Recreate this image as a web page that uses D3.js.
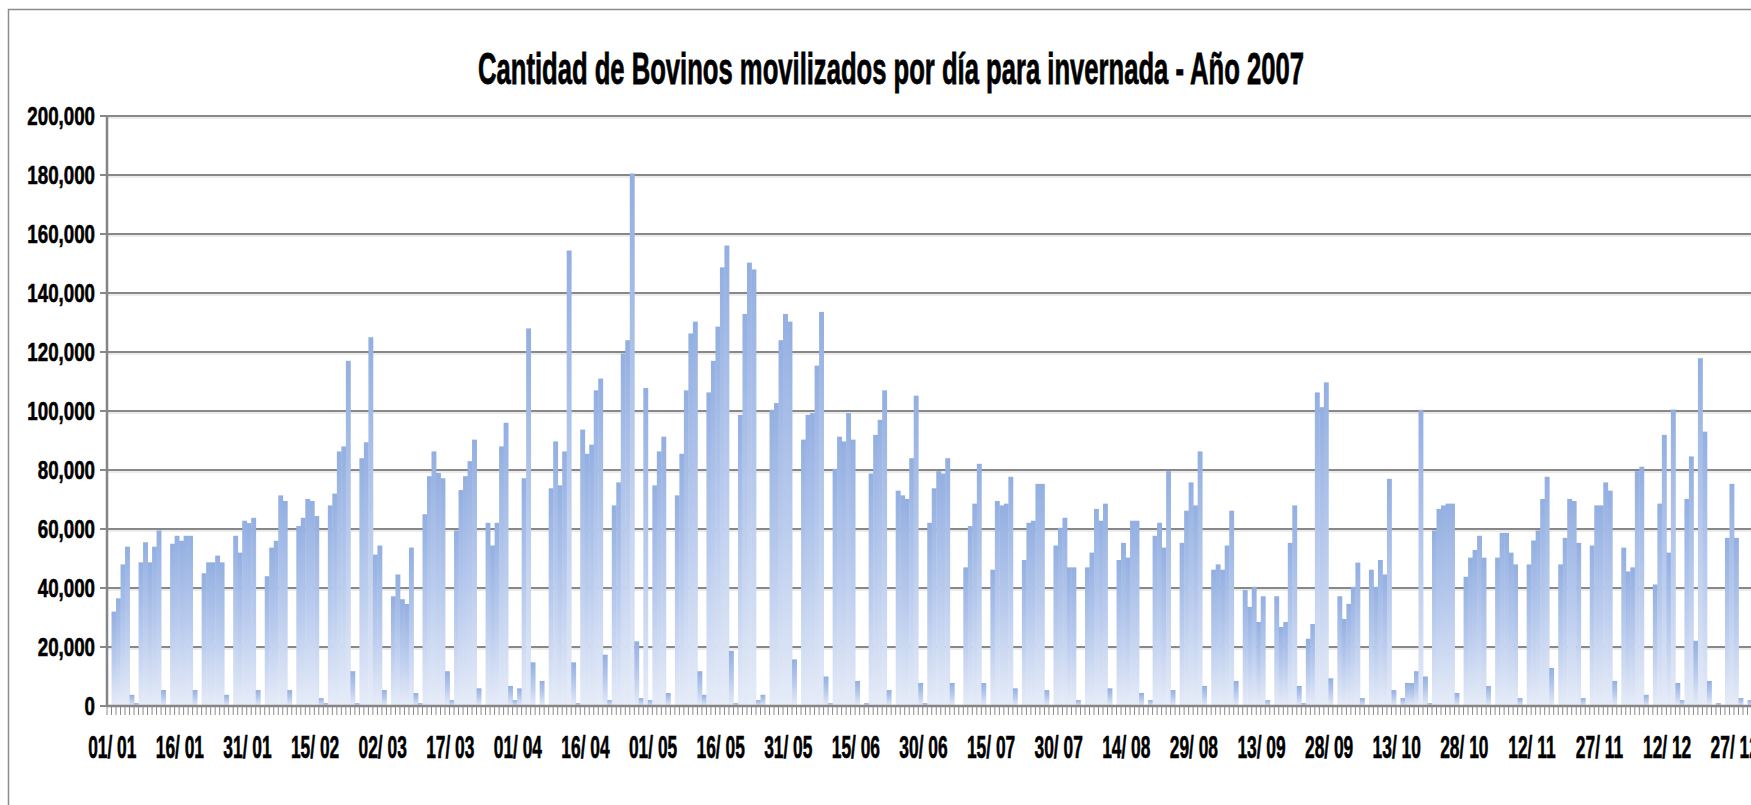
<!DOCTYPE html>
<html><head><meta charset="utf-8">
<script src="https://cdn.jsdelivr.net/npm/d3@7"></script>
<style>html,body{margin:0;padding:0;background:#fff;overflow:hidden}svg{display:block}</style>
</head><body>
<svg id="chart" width="1751" height="805"></svg>
<script>
// ---- data ----
const titleText = "Cantidad de Bovinos movilizados por día para invernada - Año 2007";
const yTicks = [0,20000,40000,60000,80000,100000,120000,140000,160000,180000,200000];
const xTickLabels = ["01/ 01","16/ 01","31/ 01","15/ 02","02/ 03","17/ 03","01/ 04","16/ 04","01/ 05","16/ 05","31/ 05","15/ 06","30/ 06","15/ 07","30/ 07","14/ 08","29/ 08","13/ 09","28/ 09","13/ 10","28/ 10","12/ 11","27/ 11","12/ 12","27/ 12"];
const xTickEvery = 15;
// daily values (head of cattle), Jan 1 .. Dec 31 2007
const values = [
0,32000,36500,48000,54000,3800,1000,
48700,55500,48700,54000,59500,5400,0,
55000,57700,56000,57700,57700,5400,0,
45000,48700,48700,51000,48700,3800,0,
57700,52000,62800,62000,63800,5400,0,
44000,53700,56000,71400,69500,5400,0,
61000,63800,70200,69500,64400,2700,1000,
68000,72000,86300,88000,117000,11800,1000,
84000,89400,125000,51300,54400,5400,0,
37200,44600,36200,34600,53700,4400,1000,
65000,77900,86300,79000,77200,11800,2000,
59500,73200,77900,83000,90300,6000,0,
62100,54400,62100,88000,96000,6800,2000,
6000,77200,128000,14800,0,8500,0,
73800,89700,74800,86300,154400,14800,1000,
93700,85500,88600,107000,111000,17400,2000,
68000,75800,119500,124000,180500,21900,2700,
107800,2000,74800,86300,91300,4400,0,
71400,85500,107000,126300,130300,11800,3800,
106300,117000,128600,148700,156100,18700,1000,
98700,132900,150300,148000,2000,3800,0,
100400,102700,124000,132900,130300,15800,0,
90300,98700,99300,115400,133600,10000,1000,
80400,91300,89700,99300,90300,8500,0,
1000,78800,91900,97000,107000,5400,0,
73000,71400,70200,84000,105200,7800,1000,
62100,73800,79600,78800,84000,7800,0,
0,47000,61000,68600,82100,7800,0,
46200,69500,68000,68600,77700,6000,0,
49500,62100,62800,75300,75300,5400,0,
54400,60400,63800,47000,47000,2000,0,
47000,52000,66800,62800,68600,6000,0,
49500,55300,50300,62800,62800,4400,0,
2000,57700,62100,53700,79600,5400,0,
55300,66200,75800,68000,86300,6800,0,
46200,48000,46200,54400,66200,8500,0,
39300,33600,40400,28500,37200,2000,0,
37200,26800,28500,55300,68000,6800,1000,
22800,27800,106300,101300,109700,9400,0,
37200,29500,34600,40400,48600,2700,0,
46200,40400,49500,44600,77000,5400,0,
2700,7800,7800,11800,100400,10000,1000,
59500,66800,68000,68600,68600,4400,0,
43800,50300,52900,57700,50300,6800,0,
50300,58700,58700,52000,48000,2700,0,
48000,56100,59500,70200,77700,12900,0,
48000,57000,70200,69500,55300,2700,0,
54400,68000,68000,75800,73000,8500,0,
53700,45600,47000,79600,81100,3800,0,
41200,68600,91900,52000,100500,7800,2000,
70200,84600,22100,117900,93000,8500,0,
1000,0,57000,75300,57000,2700,0,
2000
];
// categories: one per day of 2007
const fmt = d3.timeFormat("%d/ %m");
const categories = d3.timeDays(new Date(2007,0,1), new Date(2008,0,1)).map(d => fmt(d));

// ---- layout ----
const svg = d3.select("#chart");
const plot = {left:107, right:1752, top:116, bottom:706};
const x = d3.scaleBand().domain(d3.range(categories.length)).range([plot.left, plot.right]).padding(0);
const y = d3.scaleLinear().domain([0,200000]).range([plot.bottom, plot.top]);
const fontFam = "'Liberation Sans', Arial, sans-serif";

// outer chart border (left/top visible, rest cropped)
svg.append("rect").attr("x",8.5).attr("y",9.5).attr("width",1900).attr("height",900)
  .attr("fill","none").attr("stroke","#8c8c8c").attr("stroke-width",1.5);

// gradient
const defs = svg.append("defs");
const grad = defs.append("linearGradient").attr("id","barGrad").attr("x1",0).attr("y1",0).attr("x2",0).attr("y2",1);
grad.append("stop").attr("offset","0%").attr("stop-color","#93afe1");
grad.append("stop").attr("offset","55%").attr("stop-color","#bccdee");
grad.append("stop").attr("offset","100%").attr("stop-color","#e6ecf8");

// gridlines
const grid = svg.append("g");
yTicks.filter(t=>t>0).forEach(t=>{
  grid.append("line").attr("x1",plot.left-7).attr("x2",plot.right).attr("y1",y(t)).attr("y2",y(t))
    .attr("stroke","#888").attr("stroke-width",2);
  grid.append("line").attr("x1",plot.left).attr("x2",plot.right).attr("y1",y(t)+2).attr("y2",y(t)+2)
    .attr("stroke","#dadada").attr("stroke-width",1.2);
});

// bars
svg.append("g").selectAll("rect").data(values.map((v,i)=>({i,v}))).join("rect")
  .filter(d=>d.v>0)
  .attr("x",d=>x(d.i)).attr("width",x.bandwidth()+0.4)
  .attr("y",d=>y(d.v)).attr("height",d=>y(0)-y(d.v))
  .attr("fill","url(#barGrad)");

// y axis line
svg.append("line").attr("x1",plot.left).attr("x2",plot.left).attr("y1",plot.top-1).attr("y2",plot.bottom)
  .attr("stroke","#858585").attr("stroke-width",2.5);
// y tick at 0
svg.append("line").attr("x1",plot.left-7).attr("x2",plot.left).attr("y1",y(0)).attr("y2",y(0))
  .attr("stroke","#888").attr("stroke-width",2);

// x axis with category ticks
const xAxisG = svg.append("g");
xAxisG.append("line").attr("x1",plot.left).attr("x2",plot.right).attr("y1",plot.bottom).attr("y2",plot.bottom)
  .attr("stroke","#858585").attr("stroke-width",2.5);
d3.range(categories.length+1).forEach(i=>{
  const xp = i<categories.length ? x(i) : plot.right;
  xAxisG.append("line").attr("x1",xp).attr("x2",xp).attr("y1",plot.bottom).attr("y2",plot.bottom+9)
    .attr("stroke","#8a8a8a").attr("stroke-width",1);
});

// y labels
yTicks.forEach(t=>{
  svg.append("text").attr("transform",`translate(95,${y(t)+9}) scale(0.72,1)`)
    .attr("text-anchor","end").attr("font-family",fontFam).attr("font-weight","bold")
    .attr("font-size",26).attr("fill","#000").attr("stroke","#000").attr("stroke-width",0.6)
    .text(d3.format(",")(t));
});

// x labels
xTickLabels.forEach((lab,k)=>{
  const i = k*xTickEvery;
  const cx = x(i)+x.bandwidth()/2;
  svg.append("text").attr("transform",`translate(${cx+3},758) scale(0.56,1)`)
    .attr("text-anchor","middle").attr("font-family",fontFam).attr("font-weight","bold")
    .attr("font-size",31).attr("fill","#000").attr("stroke","#000").attr("stroke-width",0.6)
    .text(lab);
});

// title
svg.append("text").attr("x",891).attr("y",84).attr("text-anchor","middle")
  .attr("font-family",fontFam).attr("font-weight","bold").attr("font-size",45)
  .attr("textLength",826).attr("lengthAdjust","spacingAndGlyphs").attr("fill","#000")
  .attr("stroke","#000").attr("stroke-width",0.8).text(titleText);
</script>
</body></html>
